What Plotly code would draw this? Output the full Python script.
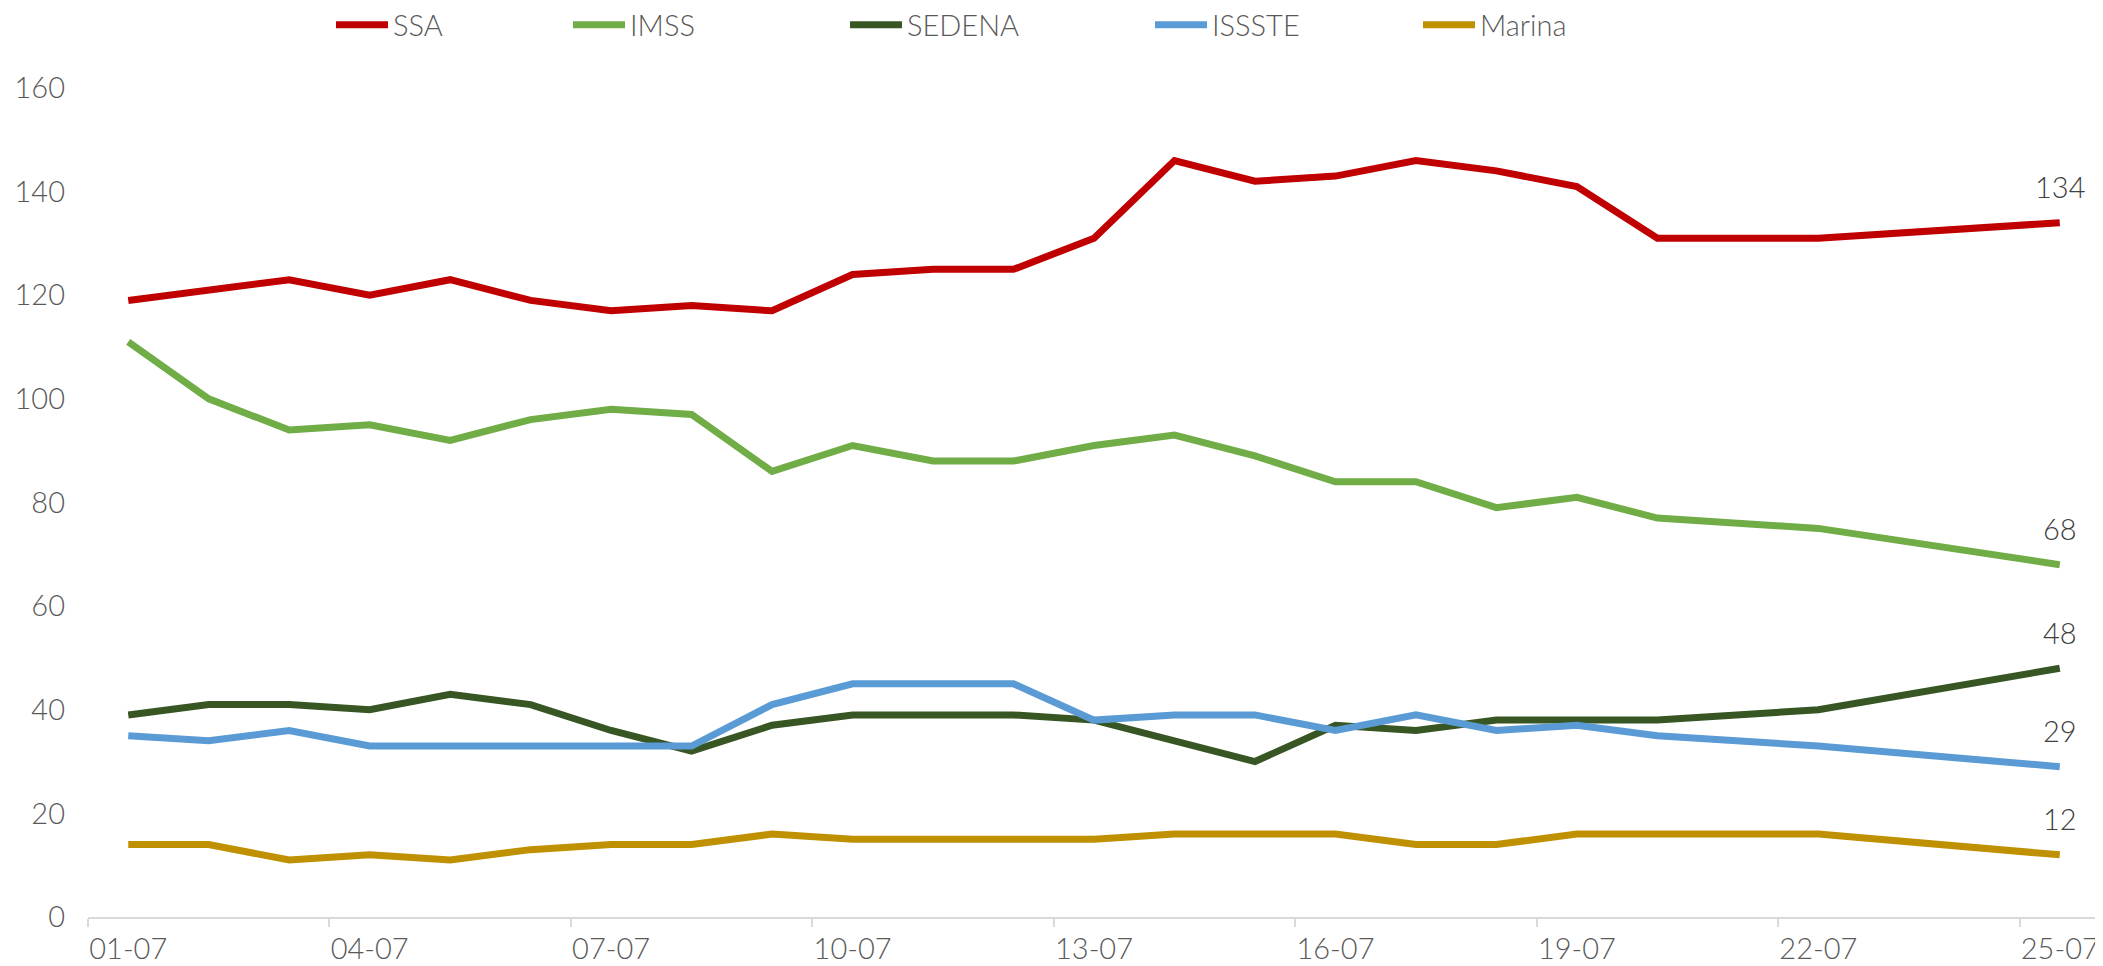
import plotly.graph_objects as go

# Fechas con dato (faltan 21, 23 y 24 de julio)
dates = ['2020-07-01', '2020-07-02', '2020-07-03', '2020-07-04', '2020-07-05',
         '2020-07-06', '2020-07-07', '2020-07-08', '2020-07-09', '2020-07-10',
         '2020-07-11', '2020-07-12', '2020-07-13', '2020-07-14', '2020-07-15',
         '2020-07-16', '2020-07-17', '2020-07-18', '2020-07-19', '2020-07-20',
         '2020-07-22', '2020-07-25']

ssa = [119, 121, 123, 120, 123, 119, 117, 118, 117, 124, 125, 125, 131, 146, 142, 143, 146, 144, 141, 131, 131, 134]
imss = [111, 100, 94, 95, 92, 96, 98, 97, 86, 91, 88, 88, 91, 93, 89, 84, 84, 79, 81, 77, 75, 68]
sedena = [39, 41, 41, 40, 43, 41, 36, 32, 37, 39, 39, 39, 38, 34, 30, 37, 36, 38, 38, 38, 40, 48]
issste = [35, 34, 36, 33, 33, 33, 33, 33, 41, 45, 45, 45, 38, 39, 39, 36, 39, 36, 37, 35, 33, 29]
marina = [14, 14, 11, 12, 11, 13, 14, 14, 16, 15, 15, 15, 15, 16, 16, 16, 14, 14, 16, 16, 16, 12]

series = [
    ('SSA', ssa, '#C00000'),
    ('IMSS', imss, '#70AD47'),
    ('SEDENA', sedena, '#375623'),
    ('ISSSTE', issste, '#5B9BD5'),
    ('Marina', marina, '#BF9000'),
]

# posicion (px) donde empieza la linea de cada entrada de la leyenda
legend_px = [336, 573, 850, 1155, 1423]

# la pagina deja 8 px de margen en el body, la figura se hace 8 px mas chica
W, H = 2095, 958
ML, MR, MT, MB = 80, 3, 80, 49
plot_w = W - ML - MR
plot_h = H - MT - MB

font = dict(family='Lato', size=29, color='#595959', weight=300)

fig = go.Figure()
legends = {}
for i, (name, vals, color) in enumerate(series):
    key = 'legend' if i == 0 else 'legend{}'.format(i + 1)
    fig.add_trace(go.Scatter(x=dates, y=vals, name=name, mode='lines',
                             line=dict(color=color, width=7),
                             legend=key))
    legends[key] = dict(
        x=(legend_px[i] - 13 - ML) / plot_w, y=1 + (MT - 17) / plot_h,
        xanchor='left', yanchor='middle', orientation='h',
        bgcolor='rgba(0,0,0,0)', font=font, itemwidth=52)
    # etiqueta del ultimo valor
    fig.add_annotation(x=dates[-1], y=vals[-1], text=str(vals[-1]),
                       showarrow=False, yshift=36,
                       font=dict(family='Lato', size=29, color='#404040', weight=300))

fig.update_layout(
    width=W, height=H,
    margin=dict(l=ML, r=MR, t=MT, b=MB, autoexpand=False),
    plot_bgcolor='white', paper_bgcolor='white',
    font=font,
    showlegend=True,
    **legends,
)

fig.update_xaxes(
    type='date',
    range=['2020-06-30 12:00', '2020-07-25 12:00'],
    tick0='2020-07-01', dtick=3 * 86400000, tickformat='%d-%m',
    ticks='', showgrid=False, zeroline=False,
    showline=True, linecolor='#D9D9D9', linewidth=2,
    ticklabelstandoff=5,
    minor=dict(tick0='2020-06-30 12:00', dtick=3 * 86400000, ticks='outside',
               ticklen=8, tickcolor='#D9D9D9', tickwidth=1.5, showgrid=False),
)
fig.update_yaxes(
    range=[0, 160], dtick=20, showgrid=False, zeroline=False,
    showline=False, ticks='', ticklabelstandoff=22,
)

fig.write_html('out.html')
